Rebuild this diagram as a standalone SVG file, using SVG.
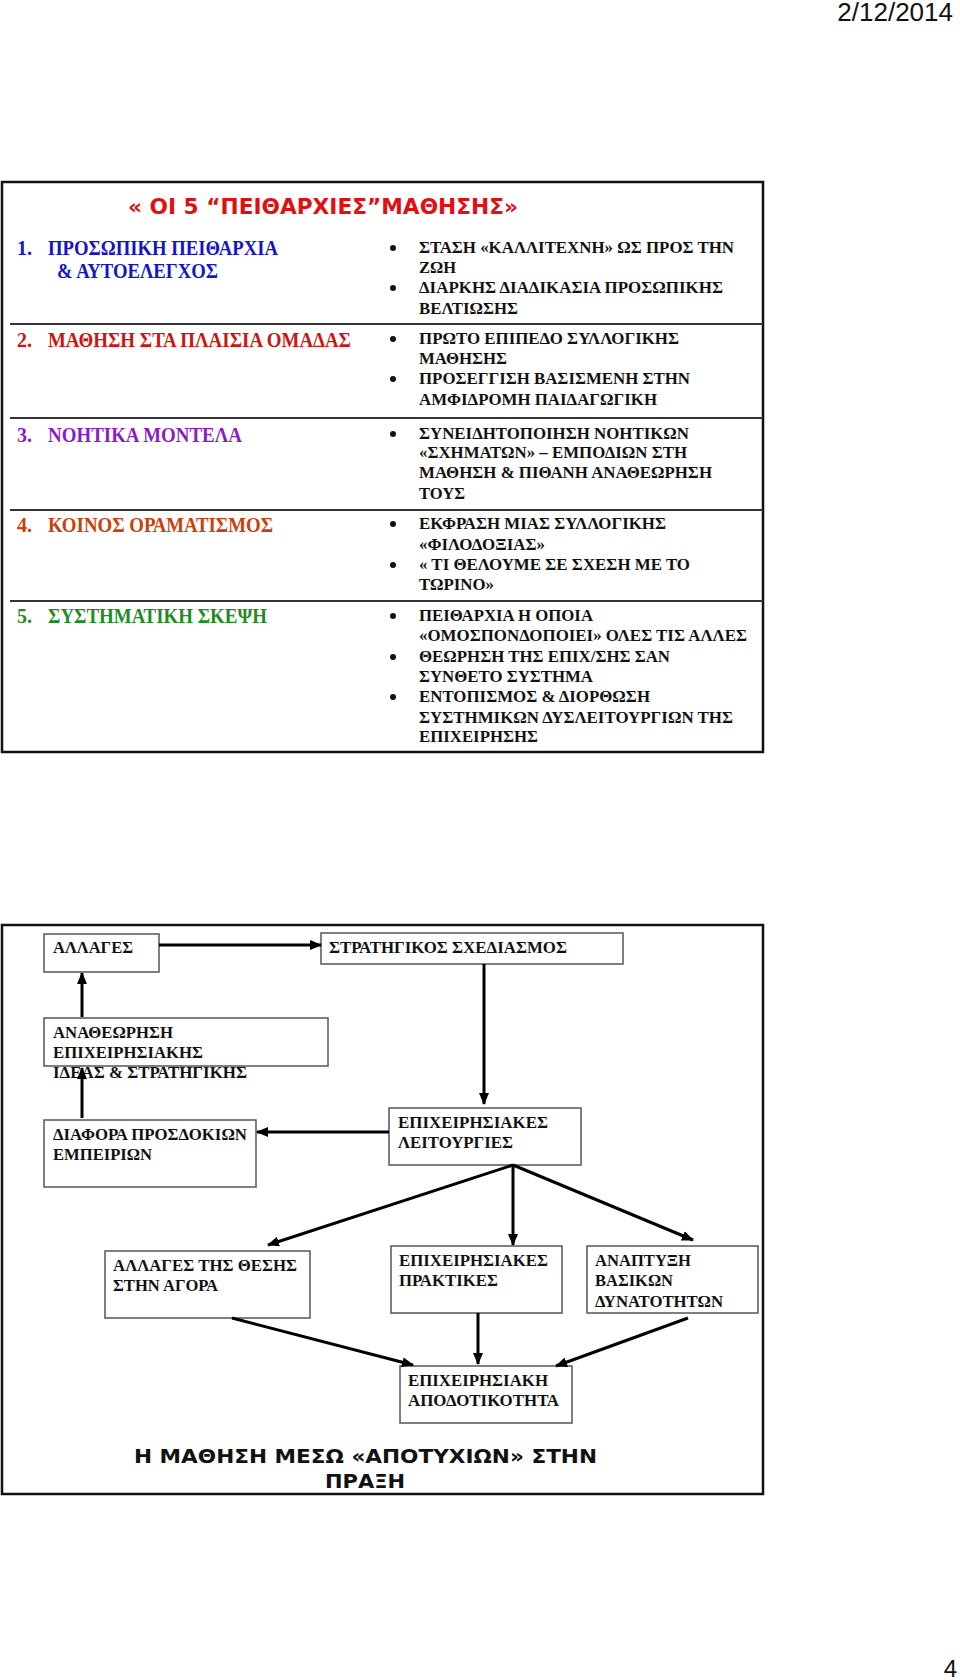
<svg xmlns="http://www.w3.org/2000/svg" width="960" height="1680" viewBox="0 0 960 1680">
<defs>
<style>
.frame{fill:none;stroke:#111;stroke-width:2.5}
.sep{stroke:#333;stroke-width:2}
.node{fill:#fff;stroke:#555;stroke-width:1.5}
.t{font-family:"Liberation Serif","Times New Roman",serif;font-weight:bold;font-size:17px;fill:#111}
.l{font-family:"Liberation Serif","Times New Roman",serif;font-weight:bold;font-size:20px}
.h{font-family:"DejaVu Sans",Verdana,sans-serif;font-weight:bold}
.c{stroke:#000;stroke-width:3;fill:none;marker-end:url(#ah)}
.b{fill:#111}
</style>
<marker id="ah" markerUnits="userSpaceOnUse" markerWidth="12" markerHeight="10" refX="11" refY="5" orient="auto">
<path d="M0,0 L12,5 L0,10 z" fill="#000"/>
</marker>
</defs>
<rect width="960" height="1680" fill="#fff"/>
<text x="953" y="21" text-anchor="end" font-family="Liberation Sans,Arial,sans-serif" font-size="26" fill="#111">2/12/2014</text>
<text x="957" y="1677" text-anchor="end" font-family="Liberation Sans,Arial,sans-serif" font-size="24" fill="#111">4</text>

<g id="disciplines">
<rect class="frame" x="2" y="182" width="761" height="570"/>
<text class="h" x="128" y="214" font-size="22" fill="#E01010" textLength="390" lengthAdjust="spacingAndGlyphs">« ΟΙ 5 “ΠΕΙΘΑΡΧΙΕΣ”ΜΑΘΗΣΗΣ»</text>
<line class="sep" x1="10" y1="324" x2="763" y2="324"/>
<line class="sep" x1="10" y1="418" x2="763" y2="418"/>
<line class="sep" x1="10" y1="510" x2="763" y2="510"/>
<line class="sep" x1="10" y1="601" x2="763" y2="601"/>

<g id="d1" fill="#1414C8">
<text class="l" x="17" y="255">1.</text>
<text class="l" x="48" y="255" textLength="230" lengthAdjust="spacingAndGlyphs">ΠΡΟΣΩΠΙΚΗ ΠΕΙΘΑΡΧΙΑ</text>
<text class="l" x="57" y="278" textLength="161" lengthAdjust="spacingAndGlyphs">&amp; ΑΥΤΟΕΛΕΓΧΟΣ</text>
</g>
<g id="d1b">
<circle class="b" cx="393" cy="248" r="3"/>
<circle class="b" cx="393" cy="288" r="3"/>
<text class="t" x="419" y="253" textLength="315" lengthAdjust="spacingAndGlyphs">ΣΤΑΣΗ «ΚΑΛΛΙΤΕΧΝΗ» ΩΣ ΠΡΟΣ ΤΗΝ</text>
<text class="t" x="419" y="273" textLength="37" lengthAdjust="spacingAndGlyphs">ΖΩΗ</text>
<text class="t" x="419" y="293" textLength="304" lengthAdjust="spacingAndGlyphs">ΔΙΑΡΚΗΣ ΔΙΑΔΙΚΑΣΙΑ ΠΡΟΣΩΠΙΚΗΣ</text>
<text class="t" x="419" y="314" textLength="99" lengthAdjust="spacingAndGlyphs">ΒΕΛΤΙΩΣΗΣ</text>
</g>

<g id="d2" fill="#CC1414">
<text class="l" x="17" y="347">2.</text>
<text class="l" x="48" y="347" textLength="303" lengthAdjust="spacingAndGlyphs">ΜΑΘΗΣΗ ΣΤΑ ΠΛΑΙΣΙΑ ΟΜΑΔΑΣ</text>
</g>
<g id="d2b">
<circle class="b" cx="393" cy="339" r="3"/>
<circle class="b" cx="393" cy="379" r="3"/>
<text class="t" x="419" y="344" textLength="260" lengthAdjust="spacingAndGlyphs">ΠΡΩΤΟ ΕΠΙΠΕΔΟ ΣΥΛΛΟΓΙΚΗΣ</text>
<text class="t" x="419" y="364" textLength="88" lengthAdjust="spacingAndGlyphs">ΜΑΘΗΣΗΣ</text>
<text class="t" x="419" y="384" textLength="271" lengthAdjust="spacingAndGlyphs">ΠΡΟΣΕΓΓΙΣΗ ΒΑΣΙΣΜΕΝΗ ΣΤΗΝ</text>
<text class="t" x="419" y="405" textLength="238" lengthAdjust="spacingAndGlyphs">ΑΜΦΙΔΡΟΜΗ ΠΑΙΔΑΓΩΓΙΚΗ</text>
</g>

<g id="d3" fill="#8A1CC8">
<text class="l" x="17" y="442">3.</text>
<text class="l" x="48" y="442" textLength="194" lengthAdjust="spacingAndGlyphs">ΝΟΗΤΙΚΑ ΜΟΝΤΕΛΑ</text>
</g>
<g id="d3b">
<circle class="b" cx="393" cy="434" r="3"/>
<text class="t" x="419" y="439" textLength="270" lengthAdjust="spacingAndGlyphs">ΣΥΝΕΙΔΗΤΟΠΟΙΗΣΗ ΝΟΗΤΙΚΩΝ</text>
<text class="t" x="419" y="458" textLength="268" lengthAdjust="spacingAndGlyphs">«ΣΧΗΜΑΤΩΝ» – ΕΜΠΟΔΙΩΝ ΣΤΗ</text>
<text class="t" x="419" y="478" textLength="293" lengthAdjust="spacingAndGlyphs">ΜΑΘΗΣΗ &amp; ΠΙΘΑΝΗ ΑΝΑΘΕΩΡΗΣΗ</text>
<text class="t" x="419" y="499" textLength="46" lengthAdjust="spacingAndGlyphs">ΤΟΥΣ</text>
</g>

<g id="d4" fill="#C8400C">
<text class="l" x="17" y="532">4.</text>
<text class="l" x="48" y="532" textLength="225" lengthAdjust="spacingAndGlyphs">ΚΟΙΝΟΣ ΟΡΑΜΑΤΙΣΜΟΣ</text>
</g>
<g id="d4b">
<circle class="b" cx="393" cy="524" r="3"/>
<circle class="b" cx="393" cy="565" r="3"/>
<text class="t" x="419" y="529" textLength="247" lengthAdjust="spacingAndGlyphs">ΕΚΦΡΑΣΗ ΜΙΑΣ ΣΥΛΛΟΓΙΚΗΣ</text>
<text class="t" x="419" y="550" textLength="126" lengthAdjust="spacingAndGlyphs">«ΦΙΛΟΔΟΞΙΑΣ»</text>
<text class="t" x="419" y="570" textLength="271" lengthAdjust="spacingAndGlyphs">« ΤΙ ΘΕΛΟΥΜΕ ΣΕ ΣΧΕΣΗ ΜΕ ΤΟ</text>
<text class="t" x="419" y="590" textLength="75" lengthAdjust="spacingAndGlyphs">ΤΩΡΙΝΟ»</text>
</g>

<g id="d5" fill="#1E8C1E">
<text class="l" x="17" y="623">5.</text>
<text class="l" x="48" y="623" textLength="219" lengthAdjust="spacingAndGlyphs">ΣΥΣΤΗΜΑΤΙΚΗ ΣΚΕΨΗ</text>
</g>
<g id="d5b">
<circle class="b" cx="393" cy="616" r="3"/>
<circle class="b" cx="393" cy="657" r="3"/>
<circle class="b" cx="393" cy="697" r="3"/>
<text class="t" x="419" y="621" textLength="174" lengthAdjust="spacingAndGlyphs">ΠΕΙΘΑΡΧΙΑ Η ΟΠΟΙΑ</text>
<text class="t" x="419" y="641" textLength="328" lengthAdjust="spacingAndGlyphs">«ΟΜΟΣΠΟΝΔΟΠΟΙΕΙ» ΟΛΕΣ ΤΙΣ ΑΛΛΕΣ</text>
<text class="t" x="419" y="662" textLength="251" lengthAdjust="spacingAndGlyphs">ΘΕΩΡΗΣΗ ΤΗΣ ΕΠΙΧ/ΣΗΣ ΣΑΝ</text>
<text class="t" x="419" y="682" textLength="174" lengthAdjust="spacingAndGlyphs">ΣΥΝΘΕΤΟ ΣΥΣΤΗΜΑ</text>
<text class="t" x="419" y="702" textLength="231" lengthAdjust="spacingAndGlyphs">ΕΝΤΟΠΙΣΜΟΣ &amp; ΔΙΟΡΘΩΣΗ</text>
<text class="t" x="419" y="723" textLength="314" lengthAdjust="spacingAndGlyphs">ΣΥΣΤΗΜΙΚΩΝ ΔΥΣΛΕΙΤΟΥΡΓΙΩΝ ΤΗΣ</text>
<text class="t" x="419" y="742" textLength="119" lengthAdjust="spacingAndGlyphs">ΕΠΙΧΕΙΡΗΣΗΣ</text>
</g>
</g>

<rect class="frame" x="2" y="925" width="761" height="569"/>

<g id="n-allages">
<rect class="node" x="44" y="934" width="115" height="38"/>
<text class="t" x="53" y="953" textLength="80" lengthAdjust="spacingAndGlyphs">ΑΛΛΑΓΕΣ</text>
</g>
<g id="n-strat">
<rect class="node" x="321" y="933" width="302" height="31"/>
<text class="t" x="329" y="953" textLength="238" lengthAdjust="spacingAndGlyphs">ΣΤΡΑΤΗΓΙΚΟΣ ΣΧΕΔΙΑΣΜΟΣ</text>
</g>
<g id="n-anath">
<rect class="node" x="44" y="1018" width="284" height="48"/>
<text class="t" x="53" y="1038" textLength="120" lengthAdjust="spacingAndGlyphs">ΑΝΑΘΕΩΡΗΣΗ</text>
<text class="t" x="53" y="1058" textLength="150" lengthAdjust="spacingAndGlyphs">ΕΠΙΧΕΙΡΗΣΙΑΚΗΣ</text>
<text class="t" x="53" y="1078" textLength="194" lengthAdjust="spacingAndGlyphs">ΙΔΕΑΣ &amp; ΣΤΡΑΤΗΓΙΚΗΣ</text>
</g>
<g id="n-diafora">
<rect class="node" x="44" y="1120" width="212" height="67"/>
<text class="t" x="53" y="1140" textLength="194" lengthAdjust="spacingAndGlyphs">ΔΙΑΦΟΡΑ ΠΡΟΣΔΟΚΙΩΝ</text>
<text class="t" x="53" y="1160" textLength="99" lengthAdjust="spacingAndGlyphs">ΕΜΠΕΙΡΙΩΝ</text>
</g>
<g id="n-leit">
<rect class="node" x="389" y="1108" width="192" height="57"/>
<text class="t" x="398" y="1128" textLength="150" lengthAdjust="spacingAndGlyphs">ΕΠΙΧΕΙΡΗΣΙΑΚΕΣ</text>
<text class="t" x="398" y="1148" textLength="115" lengthAdjust="spacingAndGlyphs">ΛΕΙΤΟΥΡΓΙΕΣ</text>
</g>
<g id="n-thesi">
<rect class="node" x="105" y="1251" width="205" height="67"/>
<text class="t" x="113" y="1271" textLength="184" lengthAdjust="spacingAndGlyphs">ΑΛΛΑΓΕΣ ΤΗΣ ΘΕΣΗΣ</text>
<text class="t" x="113" y="1291" textLength="105" lengthAdjust="spacingAndGlyphs">ΣΤΗΝ ΑΓΟΡΑ</text>
</g>
<g id="n-prakt">
<rect class="node" x="391" y="1246" width="171" height="67"/>
<text class="t" x="399" y="1266" textLength="149" lengthAdjust="spacingAndGlyphs">ΕΠΙΧΕΙΡΗΣΙΑΚΕΣ</text>
<text class="t" x="399" y="1286" textLength="99" lengthAdjust="spacingAndGlyphs">ΠΡΑΚΤΙΚΕΣ</text>
</g>
<g id="n-anapt">
<rect class="node" x="587" y="1246" width="171" height="67"/>
<text class="t" x="595" y="1266" textLength="96" lengthAdjust="spacingAndGlyphs">ΑΝΑΠΤΥΞΗ</text>
<text class="t" x="595" y="1286" textLength="78" lengthAdjust="spacingAndGlyphs">ΒΑΣΙΚΩΝ</text>
<text class="t" x="595" y="1307" textLength="128" lengthAdjust="spacingAndGlyphs">ΔΥΝΑΤΟΤΗΤΩΝ</text>
</g>
<g id="n-apod">
<rect class="node" x="400" y="1366" width="172" height="57"/>
<text class="t" x="408" y="1386" textLength="140" lengthAdjust="spacingAndGlyphs">ΕΠΙΧΕΙΡΗΣΙΑΚΗ</text>
<text class="t" x="408" y="1406" textLength="151" lengthAdjust="spacingAndGlyphs">ΑΠΟΔΟΤΙΚΟΤΗΤΑ</text>
</g>

<g id="connectors">
<line class="c" x1="159" y1="945" x2="321" y2="945"/>
<line class="c" x1="82" y1="1017" x2="82" y2="973"/>
<line class="c" x1="82" y1="1118" x2="82" y2="1068"/>
<line class="c" x1="389" y1="1132" x2="257" y2="1132"/>
<line class="c" x1="484" y1="964" x2="484" y2="1104"/>
<line class="c" x1="513" y1="1165" x2="268" y2="1245"/>
<line class="c" x1="513" y1="1165" x2="513" y2="1245"/>
<line class="c" x1="513" y1="1165" x2="693" y2="1240"/>
<line class="c" x1="232" y1="1318" x2="413" y2="1365"/>
<line class="c" x1="478" y1="1313" x2="478" y2="1364"/>
<line class="c" x1="688" y1="1318" x2="556" y2="1366"/>
</g>

<g id="caption">
<text class="h" x="134" y="1463" font-size="20" fill="#111" textLength="463" lengthAdjust="spacingAndGlyphs">Η ΜΑΘΗΣΗ ΜΕΣΩ «ΑΠΟΤΥΧΙΩΝ» ΣΤΗΝ</text>
<text class="h" x="325" y="1488" font-size="20" fill="#111" textLength="80" lengthAdjust="spacingAndGlyphs">ΠΡΑΞΗ</text>
</g>
</svg>
